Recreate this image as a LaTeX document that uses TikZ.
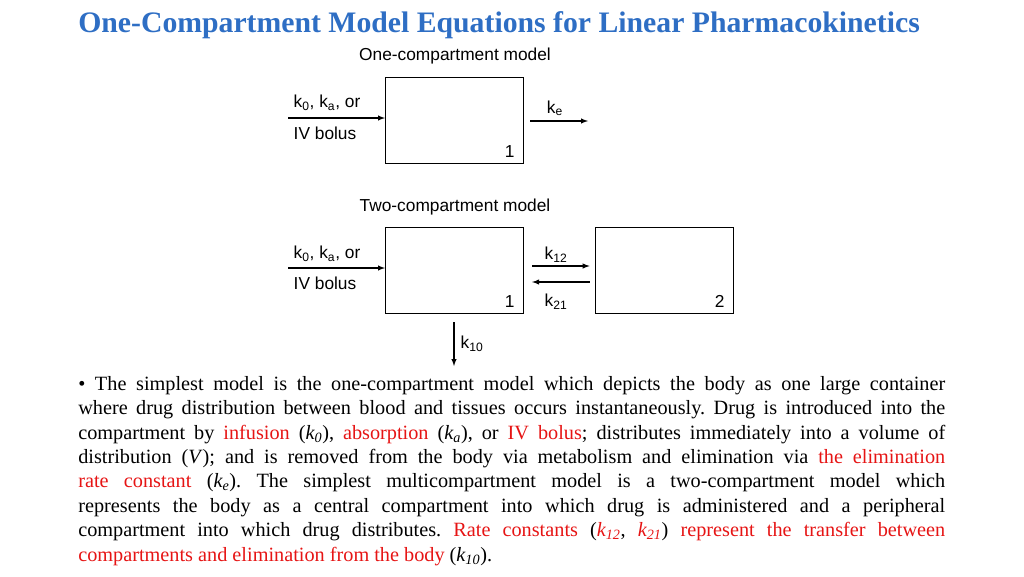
\documentclass[tikz,border=0pt]{standalone}
\usepackage{fontspec}
\setmainfont{Liberation Serif}
\setsansfont{Liberation Sans}
\usepackage{xcolor}
\definecolor{titleblue}{RGB}{46,110,196}
\definecolor{hired}{RGB}{230,20,20}
\newcommand{\hl}[1]{\textcolor{hired}{#1}}
\tikzset{
  comp/.style={draw,thick,minimum width=138\px,minimum height=86\px,inner sep=0pt},
  lbl/.style={font=\sffamily\fontsize{13}{15}\selectfont,inner sep=1pt},
  flow/.style={->,thick,>=latex}
}
\newlength{\px}\setlength{\px}{0.75pt}
\frenchspacing
\begin{document}
\begin{tikzpicture}[x=0.75pt,y=-0.75pt]
  \useasboundingbox (0,0) rectangle (1024,576);
  % Title
  \node[anchor=west,text=titleblue,font=\bfseries\fontsize{22.3}{26}\selectfont,inner sep=0pt] (title) at (78,25) {One-Compartment Model Equations for Linear Pharmacokinetics};

  % One-compartment model
  \node[lbl] (onehead) at (455,56) {One-compartment model};
  \node[comp,anchor=north west] (box1) at (385,77) {};
  \node[lbl,anchor=south east] at (box1.south east) [xshift=-6pt,yshift=4pt] {1};
  \coordinate (in1) at (288,118);
  \coordinate (out1) at (588,121);
  \draw[flow] (in1) -- (box1.west |- in1);
  \node[lbl] at (327,103) {k\textsubscript{0}, k\textsubscript{a}, or};
  \node[lbl] at (325,133) {IV bolus};
  \draw[flow] (box1.east |- out1) ++(6,0) -- (out1);
  \node[lbl] at (555,108) {k\textsubscript{e}};

  % Two-compartment model
  \node[lbl] (twohead) at (455,207) {Two-compartment model};
  \node[comp,anchor=north west] (central) at (385,227) {};
  \node[comp,anchor=north west] (periph) at (595,227) {};
  \node[lbl,anchor=south east] at (central.south east) [xshift=-6pt,yshift=4pt] {1};
  \node[lbl,anchor=south east] at (periph.south east) [xshift=-6pt,yshift=4pt] {2};
  \coordinate (in2) at (288,268);
  \draw[flow] (in2) -- (central.west |- in2);
  \node[lbl] at (327,254) {k\textsubscript{0}, k\textsubscript{a}, or};
  \node[lbl] at (325,283) {IV bolus};
  \draw[flow] ([xshift=6]central.east |- 0,266) -- ([xshift=-4]periph.west |- 0,266);
  \node[lbl] at (556,255) {k\textsubscript{12}};
  \draw[flow] ([xshift=-4]periph.west |- 0,282) -- ([xshift=6]central.east |- 0,282);
  \node[lbl] at (556,302) {k\textsubscript{21}};
  \coordinate (elim) at (454,366);
  \draw[flow] ([yshift=-6]central.south -| elim) -- (elim);
  \node[lbl] at (472,344) {k\textsubscript{10}};

  % Description
  \node[anchor=north west,text width=867\px,align=justify,inner sep=0pt,
        font=\fontsize{15.2}{18.3}\selectfont] (desc) at (78,376) {%
  \textbullet{} The simplest model is the one-compartment model which depicts the body as one large container\linebreak
  where drug distribution between blood and tissues occurs instantaneously. Drug is introduced into the\linebreak
  compartment by \hl{infusion} (\textit{k\textsubscript{0}}), \hl{absorption} (\textit{k\textsubscript{a}}), or \hl{IV bolus}; distributes immediately into a volume of\linebreak
  distribution (\textit{V}); and is removed from the body via metabolism and elimination via \hl{the elimination}\linebreak
  \hl{rate constant} (\textit{k\textsubscript{e}}). The simplest multicompartment model is a two-compartment model which\linebreak
  represents the body as a central compartment into which drug is administered and a peripheral\linebreak
  compartment into which drug distributes. \hl{Rate constants} (\textit{\hl{k\textsubscript{12}}}, \textit{\hl{k\textsubscript{21}}}) \hl{represent the transfer between}\linebreak
  \hl{compartments and elimination from the body} (\textit{k\textsubscript{10}}).};
\end{tikzpicture}
\end{document}
